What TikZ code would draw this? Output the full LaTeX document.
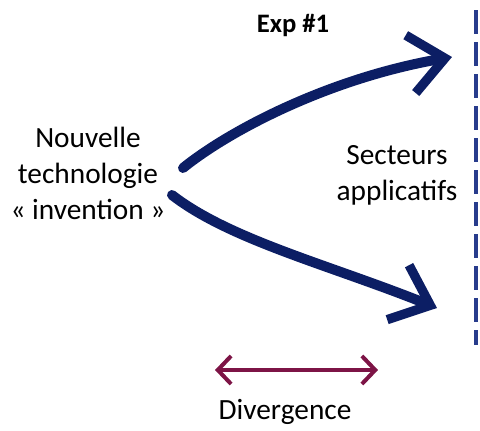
\documentclass[tikz,border=0pt]{standalone}
\usepackage{fontspec}
\setmainfont{Carlito}
\usetikzlibrary{arrows.meta}
\definecolor{flownavy}{RGB}{12,30,100}
\definecolor{sectblue}{RGB}{40,60,140}
\definecolor{divmaroon}{RGB}{125,20,70}

\begin{document}
\begin{tikzpicture}[
    x=0.75pt, y=-0.75pt,
    label/.style={align=center, font=\fontsize{22}{27}\selectfont, inner sep=0pt},
    flow/.style={line width=7.5pt, color=flownavy, line cap=round,
                 -{Straight Barb[length=26pt, width=44pt, line width=7pt]}},
    spread/.style={line width=3.5pt, color=divmaroon, line cap=round,
                   {Straight Barb[length=10pt, width=21pt, line width=3pt]}-{Straight Barb[length=10pt, width=21pt, line width=3pt]}},
    border/.style={line width=3pt, color=sectblue, dash pattern=on 18pt off 6pt}
]
    \useasboundingbox (0,0) rectangle (480,430);
    \node[label, font=\fontsize{20}{24}\selectfont\bfseries] (exp) at (293,25) {Exp \#1};
    \node[label] (tech) at (88,173) {Nouvelle\\technologie\\«~invention~»};
    \node[label] (sect) at (397,175) {Secteurs\\applicatifs};
    \node[label] (div) at (285,412) {Divergence};
    % ends of the arrows
    \coordinate (up-start) at (183,168);
    \coordinate (up-end) at (452,57);
    \coordinate (down-start) at (172,195);
    \coordinate (down-end) at (437,308);
    \coordinate (div-left) at (215,370);
    \coordinate (div-right) at (378,370);
    \coordinate (line-top) at (476,10);
    \coordinate (line-bottom) at (476,345);
    \draw[flow] (up-start) .. controls (230,130) and (330,78) .. (up-end);
    \draw[flow] (down-start) .. controls (230,240) and (330,265) .. (down-end);
    \draw[spread] (div-left) -- (div-right);
    \draw[border] (line-top) -- (line-bottom);
\end{tikzpicture}
\end{document}
